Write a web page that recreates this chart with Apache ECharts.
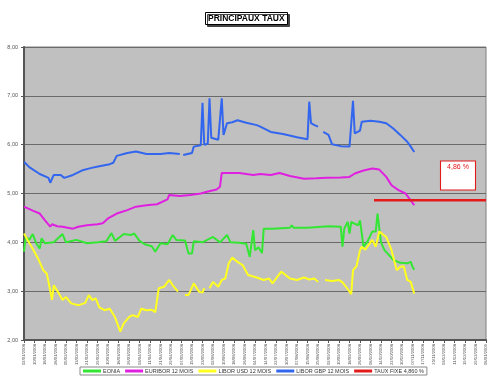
<!DOCTYPE html>
<html><head><meta charset="utf-8">
<script src="https://cdn.jsdelivr.net/npm/echarts@6/dist/echarts.min.js"></script>
<style>html,body{margin:0;padding:0;background:#fff}#c{width:500px;height:386px}</style>
</head><body><div id="c"></div>
<script>
// x = business-day index from 02/01/2008; tick labels every 6 business days
const tickLabels = ['02/01/2008','10/01/2008','18/01/2008','28/01/2008','05/02/2008','13/02/2008','21/02/2008','29/02/2008','10/03/2008','18/03/2008','26/03/2008','03/04/2008','11/04/2008','21/04/2008','29/04/2008','07/05/2008','15/05/2008','23/05/2008','02/06/2008','10/06/2008','18/06/2008','26/06/2008','04/07/2008','14/07/2008','22/07/2008','30/07/2008','07/08/2008','15/08/2008','25/08/2008','02/09/2008','10/09/2008','18/09/2008','26/09/2008','06/10/2008','14/10/2008','22/10/2008','30/10/2008','07/11/2008','17/11/2008','25/11/2008','03/12/2008','11/12/2008','19/12/2008','29/12/2008','06/01/2009'];
const yTicks = [2,3,4,5,6,7,8];

const eonia = [[0,3.81],[1,4.11],[3,4.05],[5,4.17],[7,3.98],[9,3.87],[10,4.08],[12,3.98],[17,4.00],[22,4.17],[24,4.00],[30,4.05],[36,3.98],[42,4.00],[47,4.02],[50,4.19],[52,4.03],[57,4.17],[61,4.15],[63,4.18],[66,4.03],[69,3.96],[73,3.92],[75,3.81],[78,3.98],[82,3.96],[85,4.15],[87,4.05],[92,4.04],[94,3.77],[96,3.77],[97,4.02],[102,4.00],[108,4.11],[112,4.00],[116,4.15],[118,4.00],[123,3.99],[127,3.97],[129,3.70],[131,4.25],[132,3.84],[134,3.90],[136,3.78],[137,4.28],[142,4.28],[152,4.30],[153,4.35],[154,4.30],[162,4.30],[174,4.33],[181,4.32],[182,3.91],[183,4.28],[185,4.42],[186,4.18],[187,4.42],[189,4.38],[191,4.35],[192,4.45],[194,3.91],[196,4.00],[199,4.22],[201,4.22],[202,4.59],[204,4.00],[206,3.84],[211,3.64],[215,3.58],[219,3.57],[221,3.60],[222,3.50],[223,3.44]];

const euribor = [[0,4.73],[5,4.65],[9,4.59],[12,4.45],[15,4.32],[16,4.37],[19,4.33],[22,4.32],[28,4.28],[31,4.32],[36,4.35],[42,4.37],[45,4.39],[48,4.49],[53,4.59],[59,4.66],[64,4.73],[70,4.76],[76,4.78],[82,4.88],[83,4.97],[89,4.95],[95,4.97],[101,5.00],[104,5.03],[110,5.08],[112,5.14],[113,5.42],[118,5.42],[123,5.42],[131,5.38],[135,5.40],[141,5.38],[146,5.42],[152,5.36],[160,5.30],[167,5.31],[173,5.32],[181,5.33],[186,5.34],[189,5.41],[194,5.47],[199,5.51],[203,5.49],[207,5.34],[210,5.17],[214,5.07],[218,5.00],[221,4.86],[223,4.76]];

const liborUsd = [[0,4.18],[2,4.05],[5,3.87],[8,3.67],[11,3.43],[13,3.36],[14,3.19],[16,2.82],[17,3.12],[20,2.95],[22,2.82],[24,2.88],[27,2.75],[31,2.71],[35,2.76],[37,2.92],[39,2.82],[41,2.85],[43,2.67],[46,2.61],[49,2.64],[52,2.47],[55,2.17],[57,2.34],[60,2.47],[62,2.51],[65,2.47],[67,2.64],[70,2.61],[73,2.62],[75,2.57],[77,3.06],[80,3.09],[83,3.23],[85,3.12],[88,2.99],[89,'-'],[92,2.92],[94,2.92],[97,3.16],[100,2.99],[102,2.97],[103,3.06],[105,'-'],[106,3.06],[108,3.19],[111,3.09],[113,3.23],[115,3.26],[117,3.57],[119,3.69],[122,3.60],[125,3.53],[128,3.33],[133,3.28],[137,3.23],[140,3.26],[142,3.16],[147,3.40],[152,3.26],[156,3.23],[160,3.28],[163,3.24],[166,3.26],[168,3.19],[170,'-'],[172,3.23],[176,3.21],[180,3.23],[182,3.18],[184,3.09],[187,2.94],[188,3.43],[190,3.51],[192,3.84],[193,3.91],[195,3.85],[199,4.05],[201,3.91],[203,4.22],[207,4.11],[210,3.84],[213,3.43],[215,3.50],[217,3.51],[219,3.23],[221,3.19],[223,2.95]];

const liborGbp = [[0,5.65],[3,5.54],[9,5.40],[14,5.32],[15,5.22],[17,5.38],[21,5.38],[23,5.32],[28,5.38],[33,5.47],[38,5.52],[43,5.56],[49,5.60],[51,5.63],[53,5.77],[59,5.83],[64,5.86],[70,5.81],[78,5.81],[83,5.83],[89,5.81],[90,'-'],[91,5.79],[96,5.83],[97,5.96],[101,5.99],[102,6.86],[103,6.00],[105,6.02],[106,6.95],[107,6.14],[111,6.10],[112,6.12],[113,6.95],[114,6.20],[116,6.44],[119,6.46],[122,6.50],[127,6.45],[133,6.40],[135,6.37],[141,6.26],[148,6.22],[156,6.15],[162,6.11],[163,6.88],[164,6.44],[166,6.40],[168,6.37],[169,'-'],[171,6.26],[174,6.20],[176,6.01],[181,5.97],[186,5.96],[188,6.90],[189,6.23],[192,6.29],[193,6.47],[198,6.49],[203,6.47],[207,6.44],[211,6.33],[215,6.20],[219,6.06],[221,5.96],[223,5.85]];

const tauxFixe = [[200,4.86],[264,4.86]];
const tauxLabel = '4,86 %';

const names = ['EONIA','EURIBOR 12 MOIS','LIBOR USD 12 MOIS','LIBOR GBP 12 MOIS','TAUX FIXE 4,860 %'];
const colors = ['#33e633','#e020e0','#ffff20','#3366ee','#e31a1a'];
const datas = [eonia, euribor, liborUsd, liborGbp, tauxFixe];

const FONT = 'Liberation Sans, Arial, sans-serif';
const chart = echarts.init(document.getElementById('c'), null, {renderer:'canvas'});
const series = datas.map((d,i)=>({
  name: names[i], type:'line', data:d, showSymbol:false, symbol:'none',
  connectNulls:false, lineStyle:{width: i===4?2.5:2, color:colors[i]}, itemStyle:{color:colors[i]},
  z: 2+i
}));
series[4].markPoint = {
  symbol:'rect', symbolSize:[35,29], silent:true, animation:false,
  data:[{coord:[248,5.37], itemStyle:{color:'#fff', borderColor:'#e31a1a', borderWidth:1},
    label:{show:true, formatter:tauxLabel, color:'#e31a1a', fontSize:7, fontFamily:FONT, position:'inside', offset:[0,-8]}}]
};
chart.setOption({
  animation:false,
  backgroundColor:'#fff',
  title:{text:'PRINCIPAUX TAUX', left:205, top:12, padding:[2,3],
    textStyle:{fontSize:8.5, fontWeight:'bold', color:'#000', fontFamily:FONT},
    backgroundColor:'#fff', borderColor:'#000', borderWidth:1,
    shadowColor:'#444', shadowOffsetX:2, shadowOffsetY:2, shadowBlur:0},
  grid:{left:24, right:14, top:47, bottom:46, show:true, backgroundColor:'#c0c0c0', borderColor:'#808080', borderWidth:1},
  legend:{data:names.map((n,i)=>({name:n, icon:'rect', itemStyle:{color:colors[i]}})),
    left:80, top:367, padding:[1,3], itemWidth:18, itemHeight:3, itemGap:5,
    borderColor:'#888', borderWidth:1, backgroundColor:'#fff',
    textStyle:{fontSize:5.5, color:'#333', fontFamily:FONT, padding:[0,0,0,-3]}},
  xAxis:{type:'value', min:0, max:264, interval:6,
    axisLine:{show:true, lineStyle:{color:'#555', width:2}},
    axisTick:{show:true, length:3, lineStyle:{color:'#555'}},
    splitLine:{show:false},
    axisLabel:{rotate:90, fontSize:4.2, color:'#555', fontFamily:FONT, margin:4,
      formatter:v=>tickLabels[Math.round(v/6)]||''}},
  yAxis:{type:'value', min:yTicks[0], max:yTicks[yTicks.length-1], interval:1,
    axisLine:{show:true, lineStyle:{color:'#555', width:2}},
    axisTick:{show:true, length:3, lineStyle:{color:'#555'}},
    splitLine:{show:true, lineStyle:{color:'#6a6a6a', width:1}},
    axisLabel:{fontSize:5.5, color:'#555', fontFamily:FONT, margin:6,
      formatter:v=>v.toFixed(2).replace('.',',')}},
  series
});
</script></body></html>
